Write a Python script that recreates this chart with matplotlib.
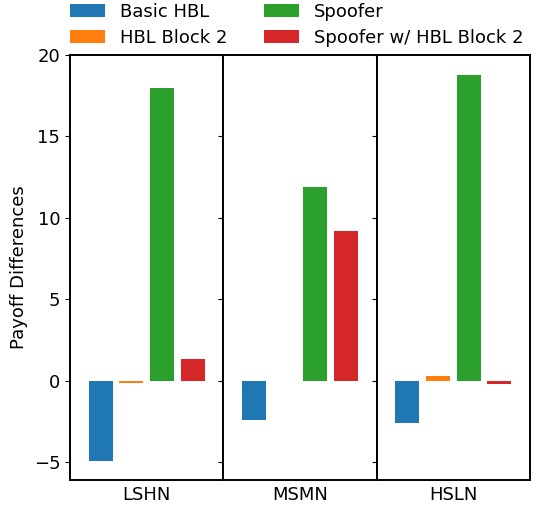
import matplotlib.pyplot as plt
import numpy as np

markets = ["LSHN", "MSMN", "HSLN"]
series = ["Basic HBL", "HBL Block 2", "Spoofer", "Spoofer w/ HBL Block 2"]
basic_hbl = [-4.95, -2.4, -2.6]
hbl_block2 = [-0.17, 0.0, 0.29]
spoofer = [18.0, 11.9, 18.8]
spoofer_block2 = [1.35, 9.2, -0.22]
colors = ['#1f77b4', '#ff7f0e', '#2ca02c', '#d62728']


def draw_payoffs():
    plt.rcParams['font.size'] = 13
    fig, axes = plt.subplots(1, 3, sharey=True, figsize=(5.48, 5.08), dpi=100,
                             gridspec_kw={'wspace': 0})
    fig.subplots_adjust(left=70 / 548, right=530 / 548, top=1 - 55 / 508, bottom=1 - 480 / 508)
    values = np.array([basic_hbl, hbl_block2, spoofer, spoofer_block2])
    for i, ax in enumerate(axes):
        for j in range(4):
            ax.bar(j, values[j, i], width=0.78, color=colors[j], label=series[j])
        ax.set_xlim(-1, 4)
        ax.set_xticks([1.5])
        ax.set_xticklabels([markets[i]])
        ax.tick_params(axis='x', length=0, pad=4)
        for s in ax.spines.values():
            s.set_linewidth(1.4)
    axes[0].set_ylim(-6.1, 20)
    axes[0].set_yticks([-5, 0, 5, 10, 15, 20])
    axes[0].set_ylabel('Payoff Differences')
    handles, labels = axes[0].get_legend_handles_labels()
    fig.legend(handles, labels, loc='upper left', bbox_to_anchor=(54 / 548, 1.027), ncol=2,
               frameon=False, columnspacing=2.05, handlelength=1.95,
               labelspacing=0.45, fontsize=13)
    plt.savefig('out.png')


if __name__ == '__main__':
    draw_payoffs()
